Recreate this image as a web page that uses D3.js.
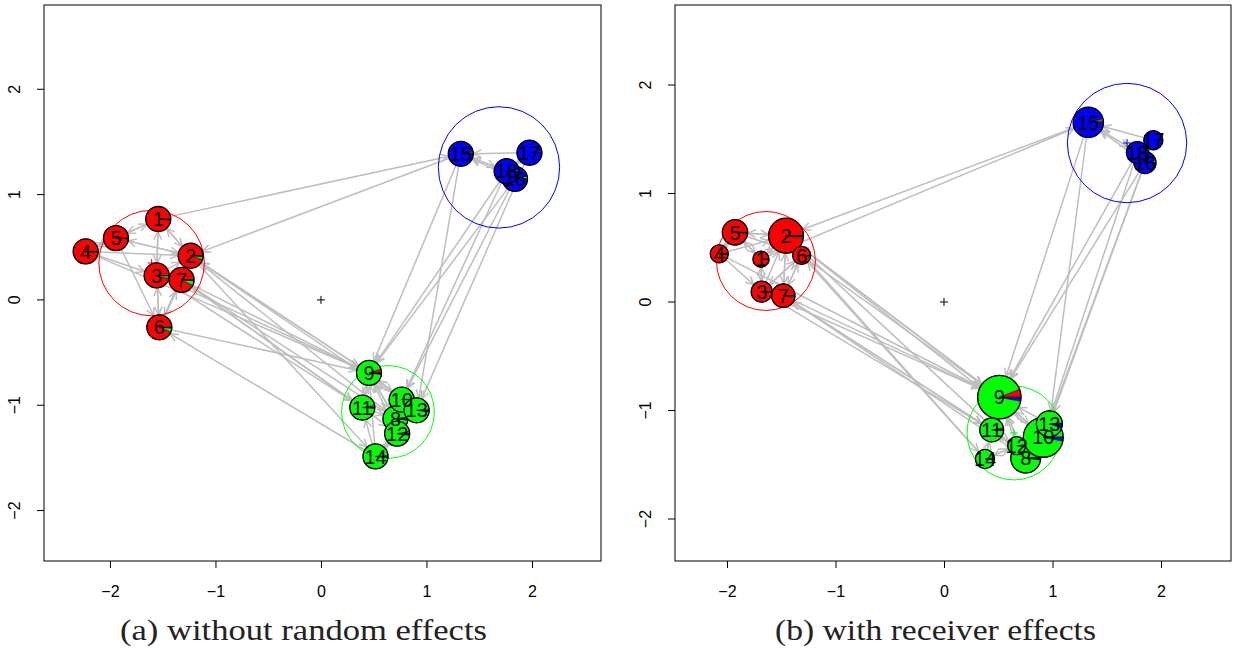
<!DOCTYPE html>
<html><head><meta charset="utf-8">
<script src="https://cdn.jsdelivr.net/npm/d3@7"></script>
<style>body{margin:0;background:#fff} svg{display:block}</style>
</head><body>
<svg id="c" width="1234" height="654"></svg>
<script>
// ---------- data ----------
const nodeLabels = d3.range(1, 19).map(String);
const axisTicks = [-2, -1, 0, 1, 2];
const tickLabels = ["\u22122", "\u22121", "0", "1", "2"];
const clusterColors = ["#FF0000", "#00FF00", "#0000FF"];
const captions = ["(a) without random effects", "(b) with receiver effects"];

// panel (a) latent positions
const xA = [-1.542, -1.235, -1.557, -2.230, -1.943, -1.532, -1.321, 0.706, 0.455, 0.765, 0.392, 0.722, 0.907, 0.517, 1.325, 1.839, 1.976, 1.760];
const yA = [0.768, 0.419, 0.232, 0.460, 0.587, -0.260, 0.190, -1.127, -0.693, -0.946, -1.022, -1.270, -1.048, -1.486, 1.387, 1.149, 1.397, 1.222];
const sizeA = d3.range(18).map(() => 0.1185);
// cluster membership probabilities (red, green, blue)
const pRedA   = [0.985, 0.95, 0.96, 0.985, 0.99, 0.94, 0.93, 0.02, 0.05, 0.01, 0.03, 0.03, 0.01, 0.015, 0.02, 0.005, 0.005, 0.005];
const pGreenA = [0.005, 0.04, 0.035, 0.01, 0.003, 0.05, 0.06, 0.96, 0.93, 0.985, 0.96, 0.95, 0.97, 0.97, 0.015, 0.03, 0.01, 0.02];
const pBlueA  = [0.01, 0.01, 0.005, 0.005, 0.007, 0.01, 0.01, 0.02, 0.02, 0.005, 0.01, 0.02, 0.02, 0.015, 0.965, 0.965, 0.985, 0.975];
const cxA = [-1.605, 0.635, 1.687];
const cyA = [0.350, -1.064, 1.258];
const crA = [0.50, 0.44, 0.575];

// panel (b) latent positions, receiver-effect sizes
const xB = [-1.687, -1.456, -1.680, -2.071, -1.926, -1.312, -1.481, 0.753, 0.510, 0.915, 0.440, 0.670, 0.971, 0.378, 1.330, 1.853, 1.929, 1.782];
const yB = [0.395, 0.611, 0.095, 0.444, 0.642, 0.429, 0.058, -1.438, -0.877, -1.247, -1.179, -1.324, -1.123, -1.447, 1.655, 1.284, 1.491, 1.377];
const sizeB = [0.074, 0.161, 0.097, 0.083, 0.117, 0.083, 0.108, 0.138, 0.200, 0.184, 0.110, 0.083, 0.120, 0.088, 0.140, 0.101, 0.088, 0.101];
const pRedB   = [0.99, 0.98, 0.985, 0.99, 0.99, 0.97, 0.97, 0.01, 0.06, 0.005, 0.03, 0.02, 0.01, 0.02, 0.02, 0.005, 0.005, 0.005];
const pGreenB = [0.005, 0.01, 0.01, 0.005, 0.005, 0.02, 0.02, 0.97, 0.91, 0.965, 0.96, 0.96, 0.94, 0.97, 0.02, 0.03, 0.01, 0.02];
const pBlueB  = [0.005, 0.01, 0.005, 0.005, 0.005, 0.01, 0.01, 0.02, 0.03, 0.03, 0.01, 0.02, 0.05, 0.01, 0.96, 0.965, 0.985, 0.975];
const cxB = [-1.641, 0.645, 1.687];
const cyB = [0.378, -1.207, 1.465];
const crB = [0.456, 0.433, 0.55];

// directed ties (sender -> receiver)
const edgeFrom = [1,1,1, 2,2,2, 3,3,3,3, 4,4,4, 5,5,5,5, 6,6,6, 7,7,7,
  2,3,7,7,3,6,2,4,2, 9,8,11,14,10,
  8,8,8, 9,9,9, 10,10,10, 11,11,11, 12,12,12,12, 13,13,13, 14,14,14,
  1,15,15,15,15, 16,16,16,16, 17,17,17, 18,18,18,18];
const edgeTo   = [2,3,5, 1,5,7, 1,2,7,6, 2,5,3, 1,2,4,6, 2,7,3, 2,3,6,
  9,9,9,11,11,9,14,9,8, 2,7,7,6,2,
  9,10,12, 8,10,11, 9,8,13, 9,8,12, 8,9,10,14, 9,10,8, 9,11,12,
  15,2,18,13,9, 15,18,9,10, 15,18,13, 15,16,9,10];

// ---------- drawing ----------
const svg = d3.select("#c");
const panels = [
  {x0: 44, x1: 601, y0: 5, y1: 561, xDom: [-2.625, 2.654], yDom: [-2.479, 2.80],
   xs: xA, ys: yA, rs: sizeA, pr: pRedA, pg: pGreenA, pb: pBlueA, cx: cxA, cy: cyA, cr: crA, cap: captions[0], capW: 367, capX: 303.5},
  {x0: 675, x1: 1231, y0: 5, y1: 561, xDom: [-2.479, 2.645], yDom: [-2.387, 2.737],
   xs: xB, ys: yB, rs: sizeB, pr: pRedB, pg: pGreenB, pb: pBlueB, cx: cxB, cy: cyB, cr: crB, cap: captions[1], capW: 321, capX: 935.5}
];

const edgeCol = "#BEBEBE";

panels.forEach(P => {
  const x = d3.scaleLinear().domain(P.xDom).range([P.x0, P.x1]);
  const y = d3.scaleLinear().domain(P.yDom).range([P.y1, P.y0]);
  const k = x(1) - x(0);
  const g = svg.append("g");

  const clipId = "clip" + P.x0;
  svg.append("clipPath").attr("id", clipId).append("rect")
    .attr("x", P.x0).attr("y", P.y0).attr("width", P.x1 - P.x0).attr("height", P.y1 - P.y0);
  const plot = g.append("g").attr("clip-path", `url(#${clipId})`);

  // edges
  const eg = plot.append("g").attr("stroke", edgeCol).attr("stroke-width", 1.5).attr("fill", "none");
  edgeFrom.forEach((s, i) => {
    const t = edgeTo[i];
    const sx = x(P.xs[s-1]), sy = y(P.ys[s-1]);
    const tx = x(P.xs[t-1]), ty = y(P.ys[t-1]);
    const dx = tx - sx, dy = ty - sy, L = Math.hypot(dx, dy);
    const ux = dx / L, uy = dy / L;
    const rs = P.rs[s-1] * k, rt = P.rs[t-1] * k;
    const ax = sx + ux * rs, ay = sy + uy * rs;
    const bx = tx - ux * rt, by = ty - uy * rt;
    eg.append("line").attr("x1", ax).attr("y1", ay).attr("x2", bx).attr("y2", by);
    const hl = 9, ang = Math.PI / 7;
    const th = Math.atan2(uy, ux);
    const p1 = [bx - hl * Math.cos(th - ang), by - hl * Math.sin(th - ang)];
    const p2 = [bx - hl * Math.cos(th + ang), by - hl * Math.sin(th + ang)];
    eg.append("path").attr("d", `M${p1[0]},${p1[1]}L${bx},${by}L${p2[0]},${p2[1]}`);
  });

  // cluster circles and centres
  P.cx.forEach((c, j) => {
    plot.append("circle").attr("cx", x(c)).attr("cy", y(P.cy[j])).attr("r", P.cr[j] * k)
      .attr("fill", "none").attr("stroke", clusterColors[j]).attr("stroke-width", 1);
    plot.append("path").attr("d", `M${x(c)-4},${y(P.cy[j])}h8M${x(c)},${y(P.cy[j])-4}v8`)
      .attr("stroke", clusterColors[j]).attr("stroke-width", 1);
  });
  plot.append("path").attr("d", `M${x(0)-4},${y(0)}h8M${x(0)},${y(0)-4}v8`)
    .attr("stroke", "#000").attr("stroke-width", 1);

  // pies
  const pie = d3.pie().sort(null).value(d => d).startAngle(Math.PI / 2).endAngle(Math.PI / 2 - 2 * Math.PI);
  P.xs.forEach((xv, i) => {
    const r = P.rs[i] * k;
    const gg = plot.append("g").attr("transform", `translate(${x(xv)},${y(P.ys[i])})`);
    const arc = d3.arc().innerRadius(0).outerRadius(r);
    gg.selectAll("path").data(pie([P.pr[i], P.pg[i], P.pb[i]])).join("path")
      .attr("d", arc).attr("fill", (d, j) => clusterColors[j])
      .attr("stroke", "#000").attr("stroke-width", 0.5);
    gg.append("circle").attr("r", r).attr("fill", "none").attr("stroke", "#000").attr("stroke-width", 1.3);
  });
  // labels
  P.xs.forEach((xv, i) => {
    plot.append("text").attr("x", x(xv)).attr("y", y(P.ys[i]))
      .attr("text-anchor", "middle").attr("dy", "0.36em")
      .attr("font-family", "Liberation Sans, Arial, sans-serif").attr("font-size", 20)
      .attr("fill", "#000").text(nodeLabels[i]);
  });

  // box
  g.append("rect").attr("x", P.x0).attr("y", P.y0).attr("width", P.x1 - P.x0).attr("height", P.y1 - P.y0)
    .attr("fill", "none").attr("stroke", "#000").attr("stroke-width", 1);

  // x axis
  const xa = g.append("g").attr("transform", `translate(0,${P.y1})`)
    .call(d3.axisBottom(x).tickValues(axisTicks).tickSize(7).tickPadding(18).tickFormat((d, i) => tickLabels[i]));
  xa.select(".domain").remove();
  xa.selectAll("text").attr("font-family", "Liberation Sans, Arial, sans-serif").attr("font-size", 16).attr("fill", "#000");
  xa.selectAll("line").attr("stroke", "#000");

  // y axis (rotated labels)
  const ya = g.append("g");
  axisTicks.forEach((v, i) => {
    ya.append("line").attr("x1", P.x0 - 7).attr("x2", P.x0).attr("y1", y(v)).attr("y2", y(v)).attr("stroke", "#000");
    ya.append("text").attr("transform", `translate(${P.x0 - 30},${y(v)}) rotate(-90)`)
      .attr("text-anchor", "middle").attr("dy", "0.36em")
      .attr("font-family", "Liberation Sans, Arial, sans-serif").attr("font-size", 16).attr("fill", "#000")
      .text(tickLabels[i]);
  });

  // caption
  g.append("text").attr("x", P.capX).attr("y", 640)
    .attr("text-anchor", "middle")
    .attr("textLength", P.capW).attr("lengthAdjust", "spacingAndGlyphs")
    .attr("font-family", "Liberation Serif, Times New Roman, serif").attr("font-size", 29)
    .attr("fill", "#222").text(P.cap);
});
</script>
</body></html>
